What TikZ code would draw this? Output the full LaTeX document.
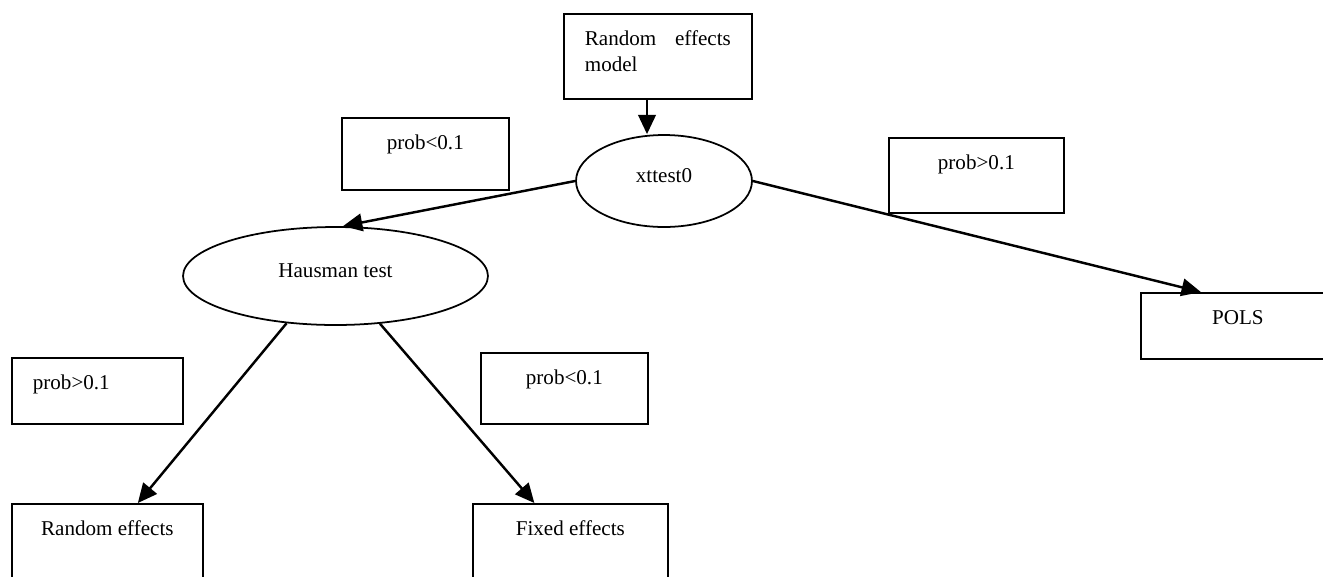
\documentclass[tikz,border=0pt]{standalone}
\usepackage{fontspec}
\setmainfont{Liberation Serif}
\usetikzlibrary{arrows.meta,shapes.geometric}

\begin{document}
\begin{tikzpicture}
[x=0.02cm,y=-0.02cm,
box/.style={draw=black,rectangle,line width=1pt,inner xsep=0.42cm,inner ysep=0pt,text height=0.64cm,anchor=north west,font=\fontsize{12}{14.5}\selectfont},
oval/.style={draw=black,ellipse,line width=1pt,inner sep=0pt,text height=0.32cm,text depth=0.28cm,font=\fontsize{12}{14.5}\selectfont},
arr/.style={-{Triangle[length=11pt,width=10pt]},line width=1.4pt}]

\useasboundingbox (0,0) rectangle (1323,576);

\node[box,text width=2.92cm,align=left,text depth=1.06cm] (model) at (563,13) {Random\hfill effects\\model};

\node[oval,minimum width=3.52cm,minimum height=1.84cm] (xt) at (664,181) {xttest0};

\node[box,minimum width=3.34cm,text depth=0.8cm] (pA) at (341,117) {prob<0.1};
\node[box,minimum width=3.5cm,text depth=0.86cm] (pB) at (888,137) {prob>0.1};

\node[oval,minimum width=6.1cm,minimum height=1.96cm] (haus) at (335.5,276) {Hausman test};

\node[box,minimum width=3.88cm,text depth=0.68cm] (pols) at (1140,292) {POLS};

\node[box,text width=2.58cm,align=left,text depth=0.68cm] (pC) at (11,357) {prob>0.1};
\node[box,minimum width=3.34cm,text depth=0.78cm] (pD) at (480,352) {prob<0.1};

\node[box,minimum width=3.82cm,text depth=1.2cm] (RE) at (11,503) {Random effects};
\node[box,minimum width=3.9cm,text depth=1.2cm] (FE) at (472,503) {Fixed effects};

\draw[arr] ([xshift=-0.34cm]xt.north |- model.south) -- ([xshift=-0.34cm]xt.north);
\draw[arr] (xt.west) -- ([xshift=0.15cm]haus.north);
\draw[arr] (xt.east) -- ([xshift=-0.74cm]pols.north);
\draw[arr] (haus.224) -- ([xshift=0.61cm]RE.north);
\draw[arr] (haus.313) -- ([xshift=-0.72cm]FE.north);
\end{tikzpicture}
\end{document}
